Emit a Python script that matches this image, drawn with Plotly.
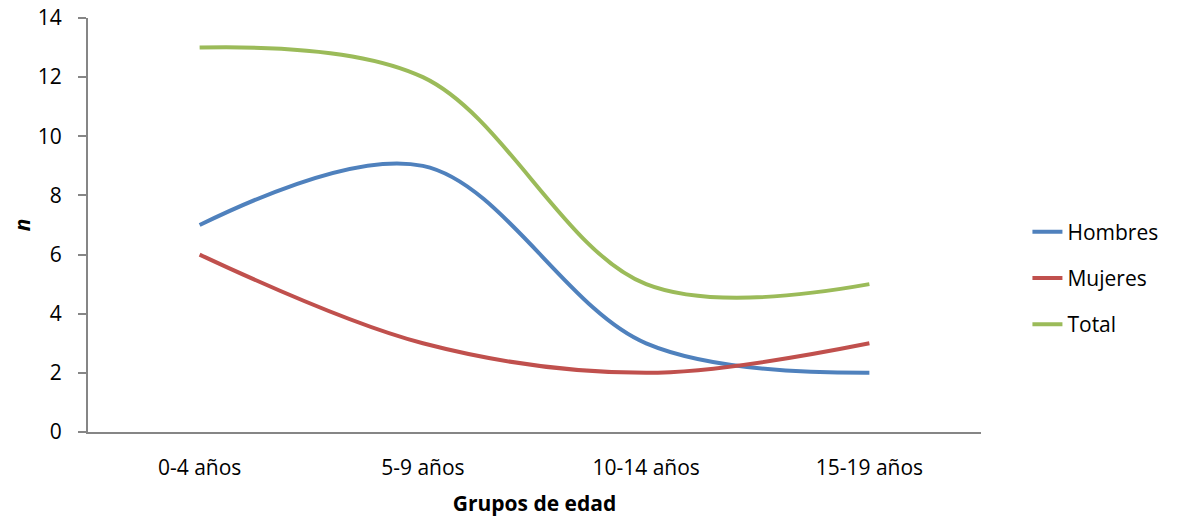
import plotly.graph_objects as go

categories = ["0-4 años", "5-9 años", "10-14 años", "15-19 años"]
hombres = [7, 9, 3, 2]
mujeres = [6, 3, 2, 3]
total = [13, 12, 5, 5]

series = [
    ("Hombres", hombres, "#4F81BD"),
    ("Mujeres", mujeres, "#C0504D"),
    ("Total", total, "#9BBB59"),
]

fig = go.Figure()
for name, vals, color in series:
    fig.add_trace(go.Scatter(
        x=categories, y=vals, name=name, mode="lines", legendgroup=name,
        line=dict(color=color, width=4, shape="spline", smoothing=1.0),
    ))

font_family = "Open Sans, Liberation Sans, sans-serif"
fig.update_layout(
    width=1178, height=509,
    margin=dict(l=80, r=205, t=10, b=85, autoexpand=False),
    paper_bgcolor="white", plot_bgcolor="white",
    font=dict(family=font_family, size=21, color="black"),
    showlegend=True,
    legend=dict(x=1.052, y=0.372, xanchor="left", yanchor="middle",
                font=dict(size=21), tracegroupgap=16),
    xaxis=dict(
        type="category", range=[-0.5, 3.5], automargin=False,
        showline=True, linecolor="#868686", linewidth=2,
        ticks="", showgrid=False, zeroline=False,
        tickfont=dict(size=21), ticklabelstandoff=16,
        title=dict(text="<b>Grupos de edad</b>", font=dict(size=21), standoff=16),
    ),
    yaxis=dict(
        range=[0, 14], dtick=2, automargin=False,
        showline=True, linecolor="#868686", linewidth=2,
        ticks="outside", ticklen=8, tickcolor="#868686", tickwidth=2,
        showgrid=False, zeroline=False, ticklabeloverflow="allow",
        tickfont=dict(size=21), ticklabelstandoff=12,
        title=dict(text="<b><i>n</i></b>", font=dict(size=21), standoff=14),
    ),
)

fig.write_html("out.html")
